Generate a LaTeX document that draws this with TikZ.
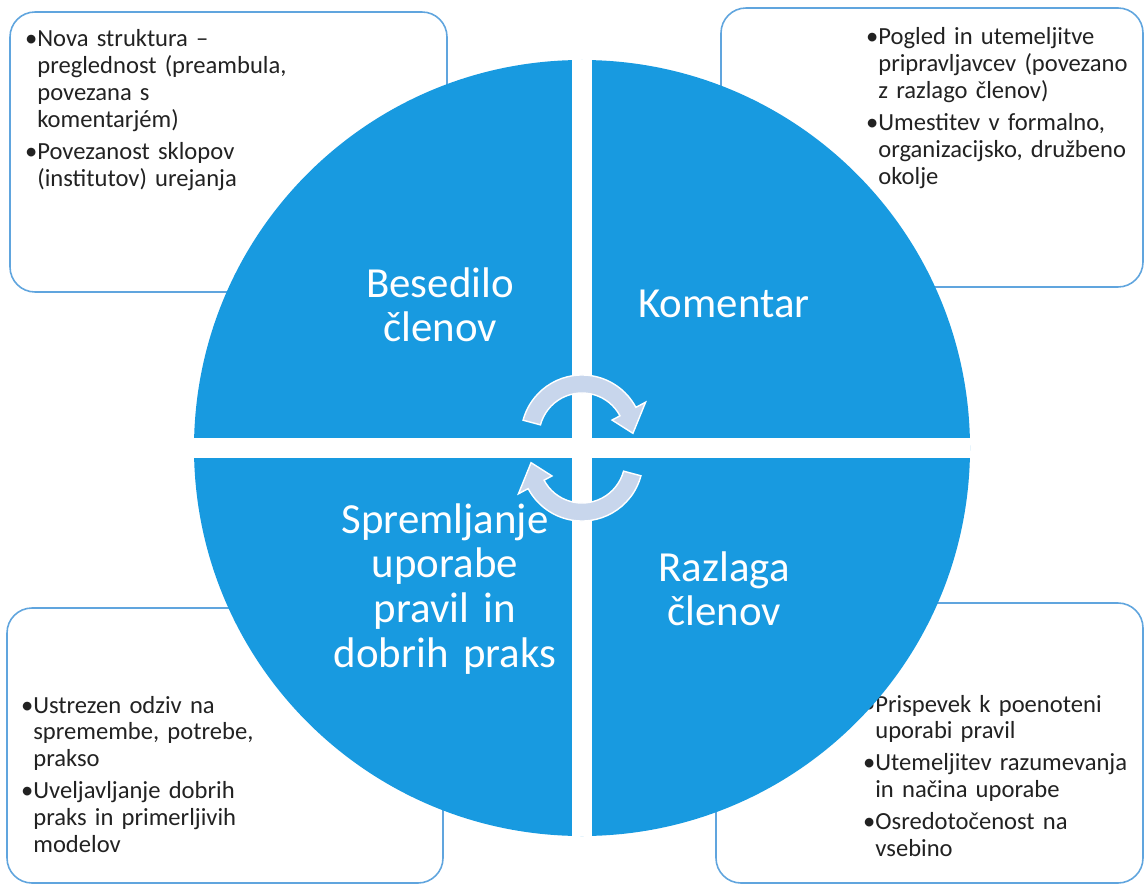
\documentclass[tikz,border=0pt]{standalone}
\usepackage{fontspec}
\setmainfont{Carlito}
\usepackage{tikz}
\usetikzlibrary{calc}

\definecolor{krog}{RGB}{24,154,224}
\definecolor{okvir}{RGB}{96,165,222}
\definecolor{puscica}{RGB}{200,214,236}
\definecolor{crnilo}{RGB}{34,34,34}
\newcommand{\tocka}{\leavevmode\llap{\textbullet}}

\tikzset{
	okno/.style={draw=okvir, line width=0.9pt, fill=white, rounded corners=0.5cm},
	alineje/.style={anchor=base west, inner sep=0pt, text width=8cm, align=left, text=crnilo, font=\fontsize{14}{15.3}\selectfont},
	naslov/.style={anchor=base, inner sep=0pt, text width=6cm, align=center, text=white, font=\fontsize{24.4}{25.6}\selectfont},
	krozna/.style={fill=puscica, draw=white, line width=0.8pt}
}

\begin{document}
\begin{tikzpicture}[x=0.02cm, y=-0.02cm]
		\useasboundingbox (0,0) rectangle (1145,885);
		\draw[okno] (10,12) rectangle (447,292);
		\draw[okno] (721,8) rectangle (1143,287);
		\draw[okno] (7,608) rectangle (443,883);
		\draw[okno] (716,603) rectangle (1143,883);
		\node[alineje] (levozgoraj) at (37,47) {\tocka Nova struktura --\\ preglednost (preambula,\\ povezana s\\ komentarjém)\\[2.8pt]\tocka Povezanost sklopov\\ (institutov) urejanja};
		\node[alineje] (desnozgoraj) at (878,45) {\tocka Pogled in utemeljitve\\ pripravljavcev (povezano\\ z razlago členov)\\[2.8pt]\tocka Umestitev v formalno,\\ organizacijsko, družbeno\\ okolje};
		\node[alineje] (levospodaj) at (33,713) {\tocka Ustrezen odziv na\\ spremembe, potrebe,\\ prakso\\[2.8pt]\tocka Uveljavljanje dobrih\\ praks in primerljivih\\ modelov};
		\node[alineje] (desnospodaj) at (875,712) {\tocka Prispevek k poenoteni\\ uporabi pravil\\[2.8pt]\tocka Utemeljitev razumevanja\\ in načina uporabe\\[2.8pt]\tocka Osredotočenost na\\ vsebino};
		\fill[krog] (582,448) circle[radius=388];
		\begin{scope}
			\clip (582,448) circle[radius=388];
			\fill[white] (572,40) rectangle (592,860);
			\fill[white] (170,438) rectangle (1000,458);
		\end{scope}
		\node[naslov] (besedilo) at (440,297) {Besedilo\\členov};
		\node[naslov] (komentar) at (724,317) {Komentar};
		\node[naslov] (spremljanje) at (445,533) {Spremljanje\\uporabe\\pravil in\\dobrih praks};
		\node[naslov] (razlaga) at (724,581) {Razlaga\\členov};
		\foreach \yc/\rot in {436/0, 460/180} {
		\begin{scope}[shift={(582,\yc)}, y=0.02cm, rotate=\rot]
			\filldraw[krozna] (165:61) arc[start angle=165, end angle=28, radius=61] -- (28:72) -- (3:51) -- (28:34) -- (28:43) arc[start angle=28, end angle=165, radius=43] -- cycle;
		\end{scope}
		}
	\end{tikzpicture}
\end{document}
